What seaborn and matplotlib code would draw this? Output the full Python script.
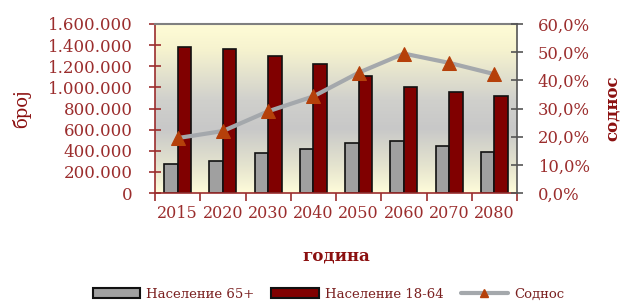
import numpy as np
import pandas as pd
import matplotlib
matplotlib.use("Agg")
import matplotlib.pyplot as plt
import seaborn as sns
from matplotlib.colors import LinearSegmentedColormap
from matplotlib.ticker import FuncFormatter, MultipleLocator
from matplotlib.patches import Patch
from matplotlib.lines import Line2D

years = ["2015", "2020", "2030", "2040", "2050", "2060", "2070", "2080"]
pop_65 = [275000, 300000, 381000, 419000, 470000, 492000, 445000, 391000]
pop_18_64 = [1385000, 1366000, 1297000, 1221000, 1108000, 1000000, 959000, 918000]
ratio = [19.5, 22.0, 29.0, 34.3, 42.7, 49.5, 46.2, 42.2]

lbl_65 = "Население 65+"
lbl_1864 = "Население 18-64"
lbl_ratio = "Соднос"

df = pd.DataFrame({"year": years * 2,
                   "value": pop_65 + pop_18_64,
                   "group": [lbl_65] * len(years) + [lbl_1864] * len(years)})

sns.set_theme(style="white")
plt.rcParams["font.family"] = ["DejaVu Serif"]
txt_col = "#9b2d2d"
lab_col = "#8b1010"

fig = plt.figure(figsize=(6.23, 3.02), dpi=100)
ax = fig.add_axes([155 / 623, 1 - 193 / 302, (517 - 155) / 623, (193 - 24) / 302])

# background gradient: pale yellow -> grey -> pale yellow
cmap = LinearSegmentedColormap.from_list(
    "bg", [(0, "#fffcd6"), (0.15, "#f6f3cf"), (0.45, "#d0d0cc"), (0.62, "#c8c8c8"),
           (0.85, "#e6e5cf"), (1, "#fffcda")])
grad = np.linspace(0, 1, 256).reshape(-1, 1)
ax.imshow(grad, aspect="auto", cmap=cmap, extent=[-0.5, 7.5, 0, 1600000],
          origin="upper", zorder=0)

sns.barplot(data=df, x="year", y="value", hue="group", hue_order=[lbl_65, lbl_1864],
            palette=["#a0a0a0", "#800000"], width=0.6, edgecolor="#111111",
            linewidth=1.2, saturation=1, ax=ax, legend=False, zorder=2)
ax.set_xlim(-0.5, 7.5)
ax.set_ylim(0, 1600000)
ax.yaxis.set_major_locator(MultipleLocator(200000))
ax.yaxis.set_major_formatter(FuncFormatter(lambda v, p: f"{int(v):,}".replace(",", ".")))
ax.set_xlabel("година", fontsize=12, fontweight="bold", color=lab_col, labelpad=18)
ax.set_ylabel("број", fontsize=13, color=lab_col, labelpad=12)
ax.tick_params(axis="y", colors=txt_col, labelsize=12, direction="inout", length=8,
               width=1.2, left=True, pad=12)
ax.set_xticks(np.arange(len(years)))
ax.set_xticklabels(years)
ax.tick_params(axis="x", which="major", length=0, labelsize=11.5, labelcolor=txt_col, pad=9)
ax.set_xticks(np.arange(len(years) + 1) - 0.5, minor=True)
ax.tick_params(axis="x", which="minor", length=6, width=1.2, color=txt_col, direction="out", bottom=True)
for s in ["left", "bottom"]:
    ax.spines[s].set_color(txt_col)
    ax.spines[s].set_linewidth(1.2)
ax.spines["top"].set_color("#808080")
ax.spines["top"].set_linewidth(1.5)
ax.spines["right"].set_visible(False)

ax2 = ax.twinx()
sns.lineplot(x=np.arange(len(years)), y=ratio, ax=ax2, color="#a4a8ac", linewidth=3,
             marker="^", markersize=10, markerfacecolor="#b5400a", markeredgecolor="#b5400a",
             zorder=5)
ax2.set_ylim(0, 60)
ax2.yaxis.set_major_locator(MultipleLocator(10))
ax2.yaxis.set_major_formatter(FuncFormatter(lambda v, p: f"{v:.1f}%".replace(".", ",")))
ax2.set_ylabel("соднос", fontsize=12, fontweight="bold", color=lab_col, labelpad=10)
ax2.tick_params(axis="y", labelcolor=txt_col, color="#555555", labelsize=11.8,
                direction="inout", length=8, width=1.2, right=True, pad=11)
ax2.spines["right"].set_color("#555555")
ax2.spines["right"].set_linewidth(1.2)
for s in ["left", "top", "bottom"]:
    ax2.spines[s].set_visible(False)

handles = [Patch(facecolor="#a0a0a0", edgecolor="#111111", linewidth=1.5),
           Patch(facecolor="#800000", edgecolor="#111111", linewidth=1.5),
           Line2D([], [], color="#a4a8ac", linewidth=3, marker="^", markersize=6,
                  markerfacecolor="#b5400a", markeredgecolor="#b5400a")]
fig.legend(handles, [lbl_65, lbl_1864, lbl_ratio], loc="lower center",
           bbox_to_anchor=(0.527, -0.035), ncol=3, frameon=False, fontsize=9.5,
           handlelength=3.6, handleheight=0.7, columnspacing=1.3, handletextpad=0.45,
           labelcolor="#7a2020")

fig.savefig("out.png", dpi=100)
